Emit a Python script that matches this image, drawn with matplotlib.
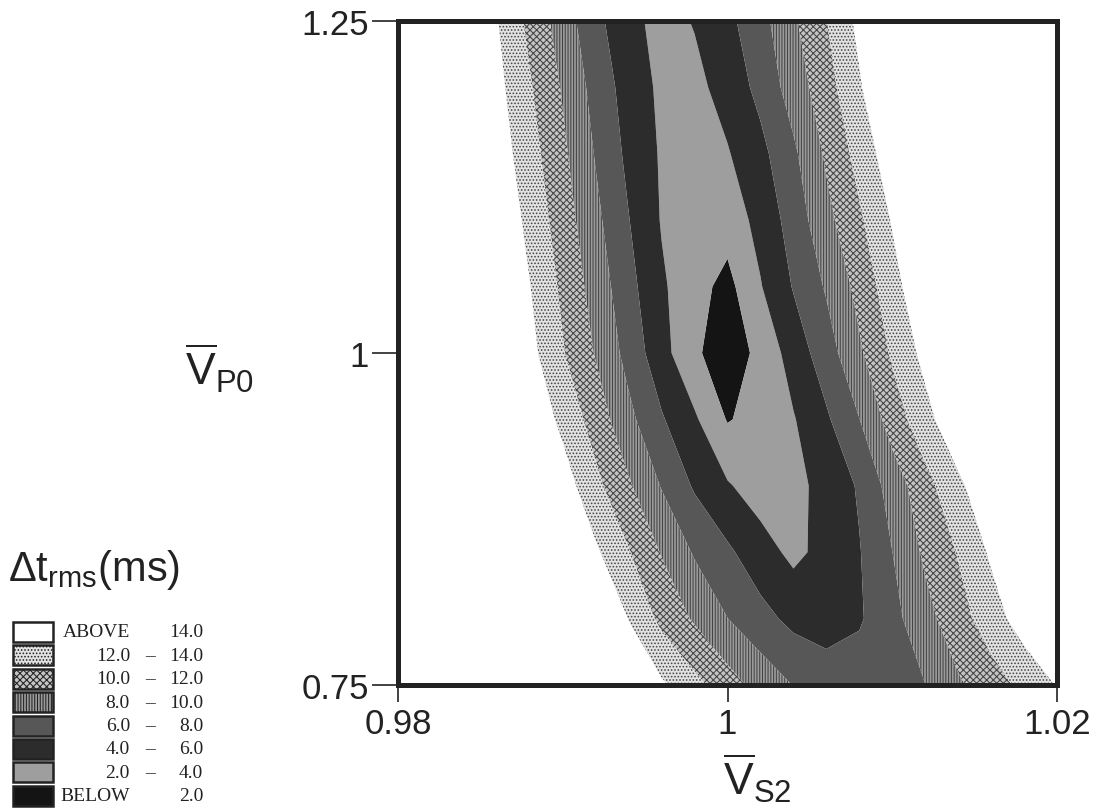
import matplotlib
matplotlib.use("Agg")
import matplotlib.pyplot as plt
from matplotlib.patches import Rectangle
import numpy as np

# grid of the misfit surface
vs2 = [0.980, 0.982, 0.984, 0.986, 0.988, 0.990, 0.992, 0.994, 0.996, 0.998, 1.000,
       1.002, 1.004, 1.006, 1.008, 1.010, 1.012, 1.014, 1.016, 1.018, 1.020]
vp0 = [0.75, 0.80, 0.85, 0.90, 0.95, 1.00, 1.05, 1.10, 1.15, 1.20, 1.25]

# dt_rms in ms, one row per vp0 value (bottom to top)
dt_rms = [
    [28.3, 26.6, 24.8, 23.1, 21.3, 19.6, 17.8, 16.1, 14.3, 12.58, 10.87, 9.29, 7.94, 7.47, 7.0, 7.49, 7.97, 9.72, 11.1, 12.53, 14.1],
    [30.1, 27.8, 25.5, 23.2, 20.9, 18.6, 16.7, 13.92, 11.47, 9.74, 8.02, 6.65, 5.47, 4.76, 5.78, 7.37, 9.33, 11.21, 13.06, 15.0, 17.0],
    [27.6, 25.4, 23.2, 21.0, 18.8, 16.5, 14.3, 12.13, 9.87, 7.78, 6.35, 4.84, 3.52, 4.64, 5.89, 7.98, 10.37, 12.13, 14.3, 16.5, 18.7],
    [27.2, 24.7, 22.3, 19.8, 17.4, 15.0, 12.52, 10.27, 7.87, 5.76, 4.19, 3.06, 3.42, 4.67, 6.22, 8.86, 11.33, 13.53, 15.7, 17.9, 20.1],
    [24.8, 22.6, 20.3, 18.0, 15.7, 13.45, 11.14, 8.52, 6.2, 4.29, 1.87, 2.68, 3.86, 5.71, 7.96, 10.92, 13.31, 15.6, 17.9, 20.1, 22.4],
    [24.4, 21.9, 19.5, 17.0, 14.6, 12.15, 9.85, 7.31, 4.72, 2.34, 0.84, 2.54, 4.88, 7.07, 9.67, 12.29, 14.6, 17.0, 19.5, 21.9, 24.4],
    [23.4, 21.1, 18.7, 16.4, 14.05, 11.6, 9.17, 6.64, 4.29, 2.71, 1.4, 3.88, 6.13, 8.21, 10.64, 13.23, 15.7, 18.2, 20.8, 23.3, 25.9],
    [22.9, 20.5, 18.1, 15.8, 13.4, 11.0, 8.48, 6.07, 3.87, 3.03, 2.83, 4.65, 6.83, 9.41, 11.7, 14.15, 16.5, 19.0, 21.4, 23.8, 26.3],
    [22.2, 19.9, 17.5, 15.1, 12.8, 10.4, 7.85, 5.53, 3.78, 2.83, 3.85, 5.44, 7.63, 10.3, 12.7, 15.2, 17.7, 20.2, 22.8, 25.3, 27.9],
    [21.6, 19.3, 16.9, 14.6, 12.2, 9.8, 7.26, 5.14, 3.61, 3.45, 4.78, 6.57, 8.9, 11.2, 13.76, 16.4, 19.0, 21.6, 24.2, 26.8, 29.4],
    [21.6, 19.1, 16.5, 14.1, 11.5, 9.04, 6.5, 4.7, 3.24, 4.13, 5.5, 7.3, 9.7, 11.95, 14.5, 17.1, 19.6, 22.2, 24.7, 27.3, 29.8],
]

levels = [0, 2, 4, 6, 8, 10, 12, 14, 40]
legend_low = ["BELOW", "2.0", "4.0", "6.0", "8.0", "10.0", "12.0", "ABOVE"]
legend_high = ["2.0", "4.0", "6.0", "8.0", "10.0", "12.0", "14.0", "14.0"]

x_ticks = [0.98, 1.0, 1.02]
x_ticklabels = ["0.98", "1", "1.02"]
y_ticks = [0.75, 1.0, 1.25]
y_ticklabels = ["0.75", "1", "1.25"]

# look of each band (lowest first)
band_colors = ["#141414", "#9e9e9e", "#2c2c2c", "#575757", "#9a9a9a", "#c4c4c4", "#e2e2e2", "#ffffff"]
band_hatches = [None, None, None, None, "||||||", "xxxxx", ".....", None]

plt.rcParams["font.family"] = ["Liberation Sans", "DejaVu Sans"]
plt.rcParams["mathtext.fontset"] = "custom"
plt.rcParams["mathtext.rm"] = "Liberation Sans"
plt.rcParams["mathtext.it"] = "Liberation Sans:italic"
plt.rcParams["hatch.color"] = "#444444"
plt.rcParams["hatch.linewidth"] = 0.75

fig = plt.figure(figsize=(10.97, 8.12), dpi=100)
ax = fig.add_axes([398 / 1097, 1 - 686 / 812, 659 / 1097, 664 / 812])

X, Y = np.meshgrid(vs2, vp0)
Z = np.array(dt_rms)
ax.contourf(X, Y, Z, levels=levels, colors=band_colors, hatches=band_hatches, antialiased=True)

ax.set_xlim(0.98, 1.02)
ax.set_ylim(0.75, 1.25)
ax.set_xticks(x_ticks)
ax.set_xticklabels(x_ticklabels)
ax.set_yticks(y_ticks)
ax.set_yticklabels(y_ticklabels)
ax.tick_params(axis="x", direction="out", length=12, width=1.2, labelsize=25, pad=4, colors="#222222")
ax.tick_params(axis="y", direction="out", length=19, width=1.2, labelsize=25, pad=2, colors="#222222")
for sp in ax.spines.values():
    sp.set_linewidth(3.6)
    sp.set_color("#222222")

fig.text(220 / 1097, 1 - 368 / 812, r"$\overline{\mathrm{V}}_{\mathrm{P0}}$", fontsize=32,
         ha="center", va="center", color="#222222")
fig.text(757 / 1097, 1 - 778 / 812, r"$\overline{\mathrm{V}}_{\mathrm{S2}}$", fontsize=32,
         ha="center", va="center", color="#222222")
fig.text(8 / 1097, 1 - 570 / 812, r"$\Delta\mathrm{t}_{\mathrm{rms}}$(ms)", fontsize=30,
         ha="left", va="center", color="#222222")

# legend drawn in pixel units
lax = fig.add_axes([0, 0, 260 / 1097, 200 / 812])
lax.set_xlim(0, 260)
lax.set_ylim(200, 0)
lax.axis("off")
n = len(legend_low)
for i in range(n):
    k = n - 1 - i  # top row is the highest band
    top = 11 + i * 23.4
    lax.add_patch(Rectangle((13, top), 40, 20, facecolor=band_colors[k], hatch=band_hatches[k],
                            edgecolor="#222222", linewidth=1.8))
    yc = top + 10
    tkw = dict(fontsize=14, family="Liberation Serif", va="center", color="#222222")
    lax.text(130, yc, legend_low[k], ha="right", **tkw)
    if legend_low[k] not in ("ABOVE", "BELOW"):
        lax.text(150, yc, "\u2013", ha="center", **tkw)
    lax.text(203, yc, legend_high[k], ha="right", **tkw)

fig.savefig("out.png", dpi=100)
